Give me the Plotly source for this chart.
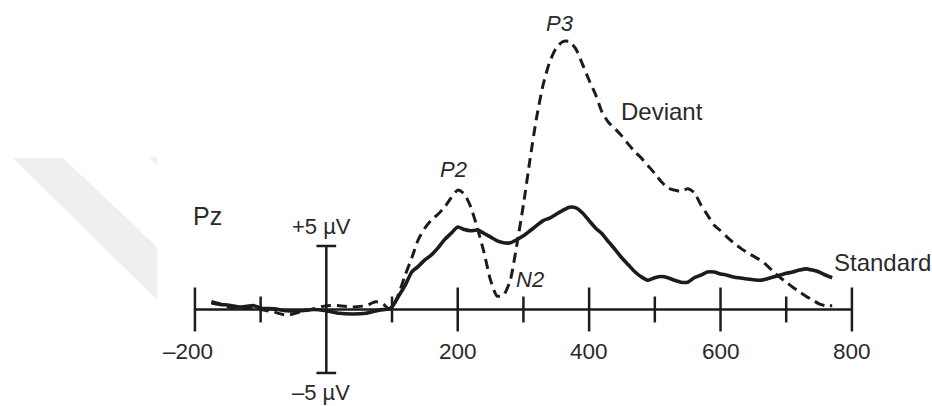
import plotly.graph_objects as go

# ---- data (time in ms, amplitude in µV) ----
std_t = [-175, -160, -150, -130, -110, -100, -80, -60, -40, -20, 0, 20, 40, 60, 80, 95, 100,
         110, 120, 130, 140, 150, 160, 170, 180, 190, 200, 210, 220, 230, 240, 250, 260, 270,
         280, 290, 300, 310, 320, 330, 340, 350, 360, 370, 380, 390, 400, 410, 420, 430, 440,
         450, 460, 470, 480, 490, 500, 510, 520, 530, 540, 550, 560, 570, 580, 590, 600, 610,
         620, 640, 660, 670, 680, 690, 700, 710, 720, 730, 740, 750, 760, 770]
std_v = [0.6, 0.4, 0.35, 0.2, 0.3, 0.1, 0.05, -0.1, -0.1, 0.0, -0.1, -0.3, -0.35, -0.3, -0.05, 0.05, 0.2,
         1.05, 1.9, 2.95, 3.4, 3.9, 4.3, 4.85, 5.5, 6.0, 6.5, 6.3, 6.2, 6.25, 6.0, 5.7, 5.4, 5.25,
         5.25, 5.5, 5.8, 6.2, 6.6, 7.0, 7.2, 7.5, 7.8, 8.05, 8.0, 7.6, 7.0, 6.4, 5.95, 5.3, 4.7,
         4.05, 3.5, 2.95, 2.55, 2.3, 2.5, 2.6, 2.5, 2.3, 2.15, 2.15, 2.5, 2.7, 2.95, 2.95, 2.8, 2.7,
         2.55, 2.4, 2.3, 2.4, 2.55, 2.7, 2.85, 2.95, 3.1, 3.2, 3.1, 2.95, 2.7, 2.5]

dev_t = [-175, -160, -140, -120, -100, -80, -60, -40, -20, 0, 20, 40, 60, 75, 85, 95, 100,
         110, 120, 130, 140, 150, 160, 170, 180, 190, 200, 210, 220, 230, 240, 250, 260, 270,
         280, 290, 300, 310, 320, 330, 340, 350, 360, 370, 380, 390, 400, 410, 420, 430, 440,
         450, 460, 470, 480, 490, 500, 510, 520, 530, 540, 550, 560, 570, 580, 590, 600, 610,
         620, 630, 640, 650, 660, 670, 680, 690, 700, 710, 720, 730, 740, 750, 760, 770]
dev_v = [0.5, 0.35, 0.1, 0.1, 0.0, -0.2, -0.45, -0.2, 0.05, 0.3, 0.3, 0.2, 0.3, 0.6, 0.5, 0.05, 0.1,
         1.2, 2.7, 4.05, 5.5, 6.4, 7.05, 7.5, 8.05, 8.8, 9.4, 9.1, 8.05, 6.4, 4.5, 2.3, 1.05, 1.15,
         2.3, 5.1, 8.25, 11.8, 15.1, 17.7, 19.5, 20.6, 21.1, 21.1, 20.5, 19.3, 18.05, 16.9, 15.5, 14.7, 14.2,
         13.65, 13.0, 12.4, 11.9, 11.3, 10.7, 10.05, 9.55, 9.4, 9.3, 9.5, 9.2, 8.25, 7.45, 6.65, 6.2, 5.7,
         5.25, 4.85, 4.5, 4.2, 3.9, 3.5, 3.0, 2.55, 2.15, 1.75, 1.4, 1.05, 0.75, 0.45, 0.3, 0.3]

major_ticks = [-200, 200, 400, 600, 800]
minor_ticks = [-100, 100, 300, 500, 700]
tick_labels = ["\u2013200", "200", "400", "600", "800"]
y_scale = [-5, 5]
y_scale_labels = ["\u20135 \u00b5V", "+5 \u00b5V"]

INK = "#1c1c1c"
TXT = "#2a2a2a"
FONT = "Liberation Sans, Arial, sans-serif"

fig = go.Figure()
fig.add_trace(go.Scatter(x=dev_t, y=dev_v, mode="lines", line=dict(color=INK, width=3.0, dash="10px,6px", shape="spline", smoothing=0.6), hoverinfo="skip"))
fig.add_trace(go.Scatter(x=std_t, y=std_v, mode="lines", line=dict(color=INK, width=3.6, shape="spline", smoothing=0.6), hoverinfo="skip"))

shapes = []
# watermark (faint)
shapes.append(dict(type="path", xref="paper", yref="paper", layer="below",
                   path="M %f %f L %f %f L %f %f L %f %f Z" % (13/932, 1-158/406, 63/932, 1-158/406, 157/932, 1-247/406, 157/932, 1-300/406),
                   fillcolor="#efefef", line=dict(width=0)))
shapes.append(dict(type="path", xref="paper", yref="paper", layer="below",
                   path="M %f %f L %f %f L %f %f Z" % (149/932, 1-157/406, 157/932, 1-157/406, 157/932, 1-166/406),
                   fillcolor="#efefef", line=dict(width=0)))
# time axis
shapes.append(dict(type="line", x0=major_ticks[0], x1=major_ticks[-1], y0=0, y1=0, line=dict(color=INK, width=2.5)))
for t in major_ticks:
    shapes.append(dict(type="line", x0=t, x1=t, y0=-1.73, y1=1.73, line=dict(color=INK, width=2.5)))
for t in minor_ticks:
    shapes.append(dict(type="line", x0=t, x1=t, y0=-1.02, y1=1.02, line=dict(color=INK, width=2.5)))
# amplitude scale bar
shapes.append(dict(type="line", x0=0, x1=0, y0=y_scale[0], y1=y_scale[1], line=dict(color=INK, width=2.5)))
for v in y_scale:
    shapes.append(dict(type="line", x0=-15, x1=15, y0=v, y1=v, line=dict(color=INK, width=2.5)))

ann = []
for t, lab in zip(major_ticks, tick_labels):
    ann.append(dict(x=t, y=-3.3, text=lab, showarrow=False, xanchor="center", yanchor="middle",
                    xshift=-7 if lab.startswith("\u2013") else 0,
                    font=dict(family=FONT, size=22.5, color=TXT)))
for v, lab in zip(y_scale, y_scale_labels):
    ann.append(dict(x=0, y=v * 1.3, text=lab, showarrow=False, xanchor="center", yanchor="middle",
                    xshift=-5, font=dict(family=FONT, size=22, color=TXT)))
ann.append(dict(x=-181, y=7.4, text="Pz", showarrow=False, xanchor="center", yanchor="middle",
                font=dict(family=FONT, size=25, color=TXT)))
ann.append(dict(x=356, y=22.5, text="<i>P3</i>", showarrow=False, xanchor="center", yanchor="middle",
                font=dict(family=FONT, size=22, color=TXT)))
ann.append(dict(x=193, y=11.0, text="<i>P2</i>", showarrow=False, xanchor="center", yanchor="middle",
                font=dict(family=FONT, size=22, color=TXT)))
ann.append(dict(x=310, y=2.4, text="<i>N2</i>", showarrow=False, xanchor="center", yanchor="middle",
                font=dict(family=FONT, size=22, color=TXT)))
ann.append(dict(x=450, y=15.6, text="Deviant", showarrow=False, xanchor="left", yanchor="middle",
                xshift=-3, font=dict(family=FONT, size=24, color=TXT)))
ann.append(dict(x=774, y=3.7, text="Standard", showarrow=False, xanchor="left", yanchor="middle",
                xshift=-3, font=dict(family=FONT, size=24, color=TXT)))

fig.update_layout(
    width=932, height=406, margin=dict(l=0, r=0, t=0, b=0),
    paper_bgcolor="white", plot_bgcolor="white", showlegend=False,
    xaxis=dict(range=[-496.7, 921.9], visible=False, fixedrange=True),
    yaxis=dict(range=[-7.6, 24.37], visible=False, fixedrange=True),
    shapes=shapes, annotations=ann,
)
fig.write_html("out.html", config={"displayModeBar": False})
